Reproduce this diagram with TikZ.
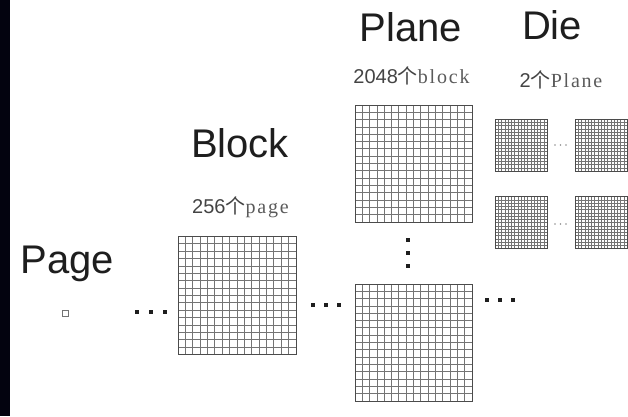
\documentclass[tikz,border=0pt]{standalone}
\usepackage{fontspec}
\setmainfont{Liberation Sans}
\newfontfamily\cjk{Noto Sans CJK SC}
\newfontfamily\songlatin[LetterSpace=9]{Liberation Serif}
\usetikzlibrary{calc}
\definecolor{ink}{HTML}{1E1E1E}
\definecolor{muted}{HTML}{444444}
\definecolor{latin}{HTML}{5A5A5A}
\definecolor{cellgray}{HTML}{747474}
\definecolor{edge}{HTML}{03030F}

\begin{document}
\begin{tikzpicture}[
  x=1pt,y=1pt,
  title/.style={font=\fontsize{40}{44}\selectfont,text=ink,anchor=base,inner sep=0pt},
  sub/.style={font=\fontsize{20}{23}\selectfont,text=muted,anchor=base,inner sep=0pt},
  cellbox/.style n args={2}{draw=ink!80,line width=1pt,fill=white,inner sep=0pt,
    minimum size=#1,
    path picture={
      \foreach \k in {1,...,15} {
        \draw[cellgray,line width=#2]
          ($(path picture bounding box.north west)!\k/16!(path picture bounding box.north east)$)
          -- ($(path picture bounding box.south west)!\k/16!(path picture bounding box.south east)$);
        \draw[cellgray,line width=#2]
          ($(path picture bounding box.north west)!\k/16!(path picture bounding box.south west)$)
          -- ($(path picture bounding box.north east)!\k/16!(path picture bounding box.south east)$);
      }
    }},
  pagecell/.style={draw=cellgray,line width=.8pt,minimum size=6pt,inner sep=0pt},
  dot/.style={fill=ink,inner sep=0pt,minimum size=3.6pt},
  minidot/.style={circle,fill=cellgray!80,inner sep=0pt,minimum size=1.8pt}
]
\path[use as bounding box] (0,0) rectangle (628,416);
\fill[edge] (0,0) rectangle (10,416);

% Page
\node[title] (pagetitle) at (67.5,143) {Page};
\node[pagecell] (page) at (65,103) {};
\foreach \x [count=\i] in {137,151,165} {
  \node[dot] (pdot\i) at (\x,104) {};
}

% Block
\node[title] (blocktitle) at (240,259) {Block};
\node[sub] (blocksub) at (240.5,203) {256{\cjk 个}{\songlatin\color{latin}page}};
\node[cellbox={118pt}{.8pt}] (block) at (237,120.5) {};
\foreach \x [count=\i] in {313,326,339} {
  \node[dot] (bdot\i) at (\x,111) {};
}

% Plane: two blocks shown, the rest stacked between them
\node[title] (planetitle) at (411,374) {Plane};
\node[sub] (planesub) at (411.5,333) {2048{\cjk 个}{\songlatin\color{latin}block}};
\node[cellbox={117pt}{.8pt}] (planetop) at (413.5,252.5) {};
\foreach \y [count=\i] in {176,163,150} {
  \node[dot] (vdot\i) at (408,\y) {};
}
\node[cellbox={117pt}{.8pt}] (planebot) at (413.5,73.5) {};
\foreach \x [count=\i] in {487,500,513} {
  \node[dot] (rdot\i) at (\x,116) {};
}

% Die
\node[title] (dietitle) at (552,376) {Die};
\node[sub] (diesub) at (561,329) {2{\cjk 个}{\songlatin\color{latin}Plane}};
\node[cellbox={52pt}{.5pt}] (die11) at (521,271) {};
\node[cellbox={52pt}{.5pt}] (die12) at (601,271) {};
\node[cellbox={52pt}{.5pt}] (die21) at (521,193.5) {};
\node[cellbox={52pt}{.5pt}] (die22) at (601,193.5) {};
\foreach \x [count=\i] in {555,560.5,566} {
  \node[minidot] (ddot\i) at (\x,271) {};
  \node[minidot] (edot\i) at (\x,192) {};
}
\end{tikzpicture}
\end{document}
